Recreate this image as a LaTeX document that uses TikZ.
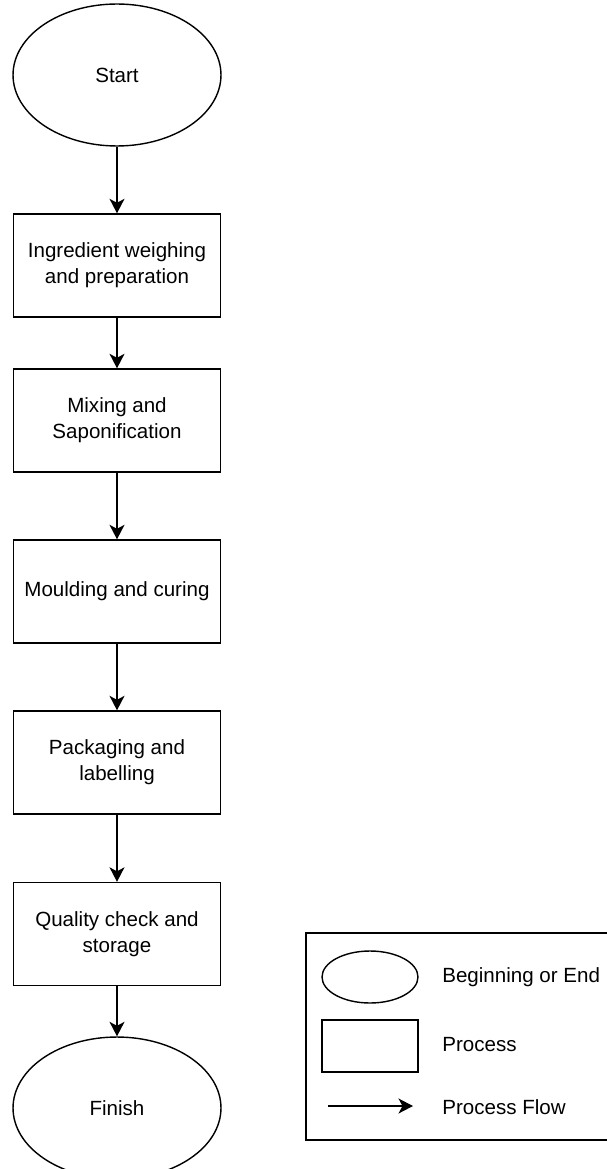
\documentclass[tikz,border=0pt]{standalone}
\usepackage{fontspec}
\setmainfont{Liberation Sans}
\usepackage{tikz}
\usetikzlibrary{arrows.meta}
\usetikzlibrary{shapes.geometric}
\tikzset{>={Stealth[length=2.9mm,width=3mm,inset=0.8mm]}}
\tikzstyle{term} = [ellipse, draw=black, line width=0.8pt, inner sep=0pt, minimum width=4.16cm, minimum height=2.84cm, align=center]
\tikzstyle{proc} = [rectangle, draw=black, line width=0.8pt, inner sep=0pt, minimum width=4.14cm, minimum height=2.06cm, align=center]
\tikzstyle{lbl} = [anchor=west, inner sep=0pt]

\begin{document}
\begin{tikzpicture}[x=0.02cm, y=-0.02cm, font=\fontsize{11.7}{14.9}\selectfont]
 \useasboundingbox (0, 0) rectangle (606, 1169);
 \node [term] (S) at (117, 75) {Start};
 \node [proc] (P1) at (117, 265.5) {Ingredient weighing\\and preparation};
 \node [proc] (P2) at (117, 420.5) {Mixing and\\Saponification};
 \node [proc] (P3) at (117, 591.5) {Moulding and curing};
 \node [proc] (P4) at (117, 762.5) {Packaging and\\labelling};
 \node [proc] (P5) at (117, 934) {Quality check and\\storage};
 \node [term] (F) at (117, 1108) {Finish};
 \draw [->, line width=0.8pt] (S) to (P1);
 \draw [->, line width=0.8pt] (P1) to (P2);
 \draw [->, line width=0.8pt] (P2) to (P3);
 \draw [->, line width=0.8pt] (P3) to (P4);
 \draw [->, line width=0.8pt] (P4) to (P5);
 \draw [->, line width=0.8pt] (P5) to (F);
 % legend
 \node [rectangle, draw=black, line width=0.8pt, inner sep=0pt, minimum width=6.08cm, minimum height=4.14cm] (K) at (458, 1036.5) {};
 \node [ellipse, draw=black, line width=0.8pt, inner sep=0pt, minimum width=1.92cm, minimum height=1.04cm] (KE) at (370, 977) {};
 \node [rectangle, draw=black, line width=0.8pt, inner sep=0pt, minimum width=1.92cm, minimum height=1.04cm] (KR) at (370, 1046) {};
 \coordinate (KA1) at (328, 1106);
 \coordinate (KA2) at (413, 1106);
 \draw [->, line width=0.8pt] (KA1) to (KA2);
 \node [lbl] (KT1) at (442, 977) {Beginning or End};
 \node [lbl] (KT2) at (442, 1045) {Process};
 \node [lbl] (KT3) at (442, 1107) {Process Flow};
\end{tikzpicture}
\end{document}
